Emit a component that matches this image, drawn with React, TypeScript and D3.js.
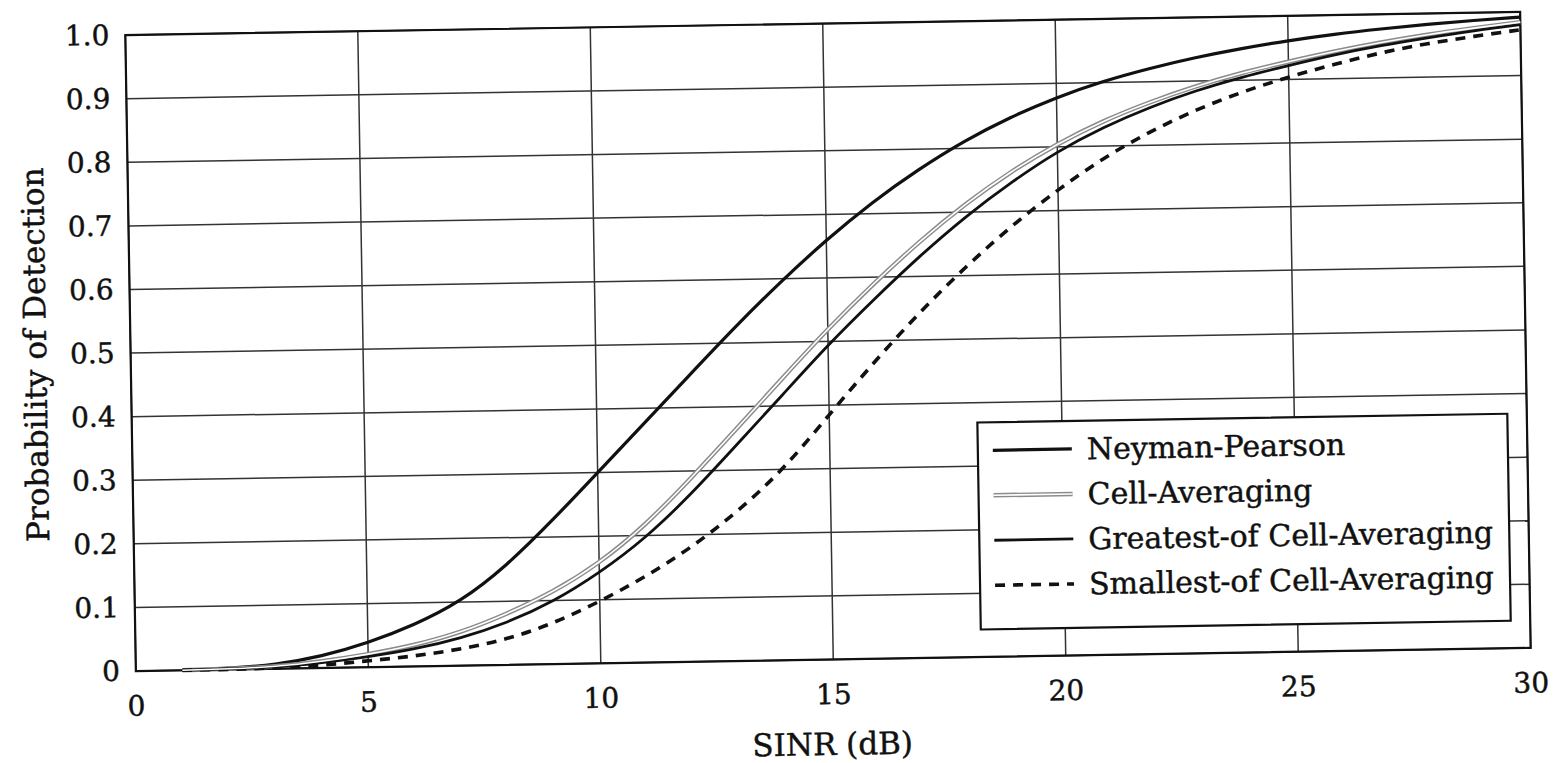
import React from 'react';
import * as d3 from 'd3';

const sinrDb = [1, 2, 3, 4, 5, 6, 7, 8, 9, 10, 11, 12, 13, 14, 15, 16, 17, 18, 19, 20, 21, 22, 23, 24, 25, 26, 27, 28, 29, 30];
const neymanPearson = [0.0, 0.002, 0.006, 0.018, 0.038, 0.065, 0.1, 0.155, 0.225, 0.3, 0.375, 0.45, 0.525, 0.595, 0.66, 0.718, 0.768, 0.812, 0.848, 0.878, 0.902, 0.921, 0.937, 0.95, 0.961, 0.970, 0.977, 0.983, 0.988, 0.992];
const cellAveraging = [0.0, 0.001, 0.003, 0.01, 0.02, 0.033, 0.052, 0.08, 0.113, 0.157, 0.215, 0.288, 0.365, 0.443, 0.52, 0.59, 0.655, 0.713, 0.763, 0.805, 0.84, 0.868, 0.892, 0.912, 0.928, 0.943, 0.956, 0.967, 0.976, 0.984];
const greatestOf = [0.0, 0.001, 0.002, 0.008, 0.016, 0.027, 0.043, 0.066, 0.098, 0.142, 0.195, 0.263, 0.34, 0.417, 0.495, 0.565, 0.632, 0.693, 0.746, 0.793, 0.83, 0.86, 0.885, 0.905, 0.922, 0.938, 0.951, 0.962, 0.972, 0.98];
const smallestOf = [0.0, 0.0, 0.001, 0.004, 0.01, 0.016, 0.026, 0.04, 0.064, 0.097, 0.135, 0.18, 0.235, 0.3, 0.385, 0.468, 0.545, 0.615, 0.678, 0.733, 0.782, 0.822, 0.855, 0.882, 0.904, 0.923, 0.94, 0.953, 0.963, 0.972];

const xTicks = [0, 5, 10, 15, 20, 25, 30];
const yTicks = [0, 0.1, 0.2, 0.3, 0.4, 0.5, 0.6, 0.7, 0.8, 0.9, 1.0];
const yTickLabels = ['0', '0.1', '0.2', '0.3', '0.4', '0.5', '0.6', '0.7', '0.8', '0.9', '1.0'];
const seriesNames = ['Neyman-Pearson', 'Cell-Averaging', 'Greatest-of Cell-Averaging', 'Smallest-of Cell-Averaging'];
const xAxisTitle = 'SINR (dB)';
const yAxisTitle = 'Probability of Detection';

export default function App() {
  const W = 1556, H = 763;
  const L = 130.5, R = 1525.5, T = 23.5, B = 659.5;
  const x = d3.scaleLinear().domain([0, 30]).range([L, R]);
  const y = d3.scaleLinear().domain([0, 1]).range([B, T]);
  const line = d3.line<number>().x((_, i) => x(sinrDb[i])).y((d) => y(d)).curve(d3.curveBasis);
  const font = "'DejaVu Serif', 'Liberation Serif', serif";
  const fsTick = 28;
  const fsText = 31;
  const fsLegend = 30;
  const textStroke = { stroke: '#111', strokeWidth: 0.45 };

  const legX = 976, legY = 425, legW = 530, legH = 207;
  const rowY = [453, 498, 543, 588];
  const sx1 = 991, sx2 = 1070, tx = 1085;

  const styles = [
    { stroke: '#111', width: 3.2, dash: undefined as string | undefined },
    { stroke: '#8a8a8a', width: 4.5, dash: undefined },
    { stroke: '#111', width: 2.8, dash: undefined },
    { stroke: '#111', width: 3.6, dash: '10 8' },
  ];
  const data = [neymanPearson, cellAveraging, greatestOf, smallestOf];

  return (
    <svg width={W} height={H} style={{ position: 'absolute', left: 0, top: 0, background: '#fff' }}>
      <rect x={0} y={0} width={W} height={H} fill="#fff" />
      <g transform="rotate(-0.95 828 341.5)" fontFamily={font} fill="#111">
        {xTicks.map((t) => (
          <line key={'gx' + t} x1={x(t)} x2={x(t)} y1={T} y2={B} stroke="#333" strokeWidth={1.5} />
        ))}
        {yTicks.map((t) => (
          <line key={'gy' + t} x1={L} x2={R} y1={y(t)} y2={y(t)} stroke="#333" strokeWidth={1.5} />
        ))}
        <rect x={L} y={T} width={R - L} height={B - T} fill="none" stroke="#111" strokeWidth={2.2} />

        {data.map((d, i) => (
          <path key={'s' + i} d={line(d) || ''} fill="none" stroke={styles[i].stroke} strokeWidth={styles[i].width}
            strokeDasharray={styles[i].dash} strokeLinejoin="round" />
        ))}
        <path d={line(cellAveraging) || ''} fill="none" stroke="#fff" strokeWidth={1.6} />

        {yTicks.map((t, i) => (
          <text key={'ty' + t} x={114.5} y={y(t)} textAnchor="end" dominantBaseline="central" fontSize={fsTick} {...textStroke}>{yTickLabels[i]}</text>
        ))}
        {xTicks.map((t) => (
          <text key={'tx' + t} x={x(t)} y={B + 35} textAnchor="middle" dominantBaseline="central" fontSize={fsTick} {...textStroke}>{t}</text>
        ))}
        <text x={826} y={744} textAnchor="middle" dominantBaseline="central" fontSize={fsText} {...textStroke}>{xAxisTitle}</text>
        <text transform={`translate(35, ${(T + B) / 2}) rotate(-90)`} textAnchor="middle" dominantBaseline="central" fontSize={fsText} {...textStroke}>{yAxisTitle}</text>

        <rect x={legX} y={legY} width={legW} height={legH} fill="#fff" stroke="#111" strokeWidth={2.2} />
        {seriesNames.map((n, i) => (
          <g key={'lg' + i}>
            <line x1={sx1} x2={sx2} y1={rowY[i]} y2={rowY[i]} stroke={styles[i].stroke} strokeWidth={styles[i].width} strokeDasharray={styles[i].dash} />
            {i === 1 && <line x1={sx1} x2={sx2} y1={rowY[i]} y2={rowY[i]} stroke="#fff" strokeWidth={1.6} />}
            <text x={tx} y={rowY[i]} dominantBaseline="central" fontSize={fsLegend} {...textStroke}>{n}</text>
          </g>
        ))}
      </g>
    </svg>
  );
}
